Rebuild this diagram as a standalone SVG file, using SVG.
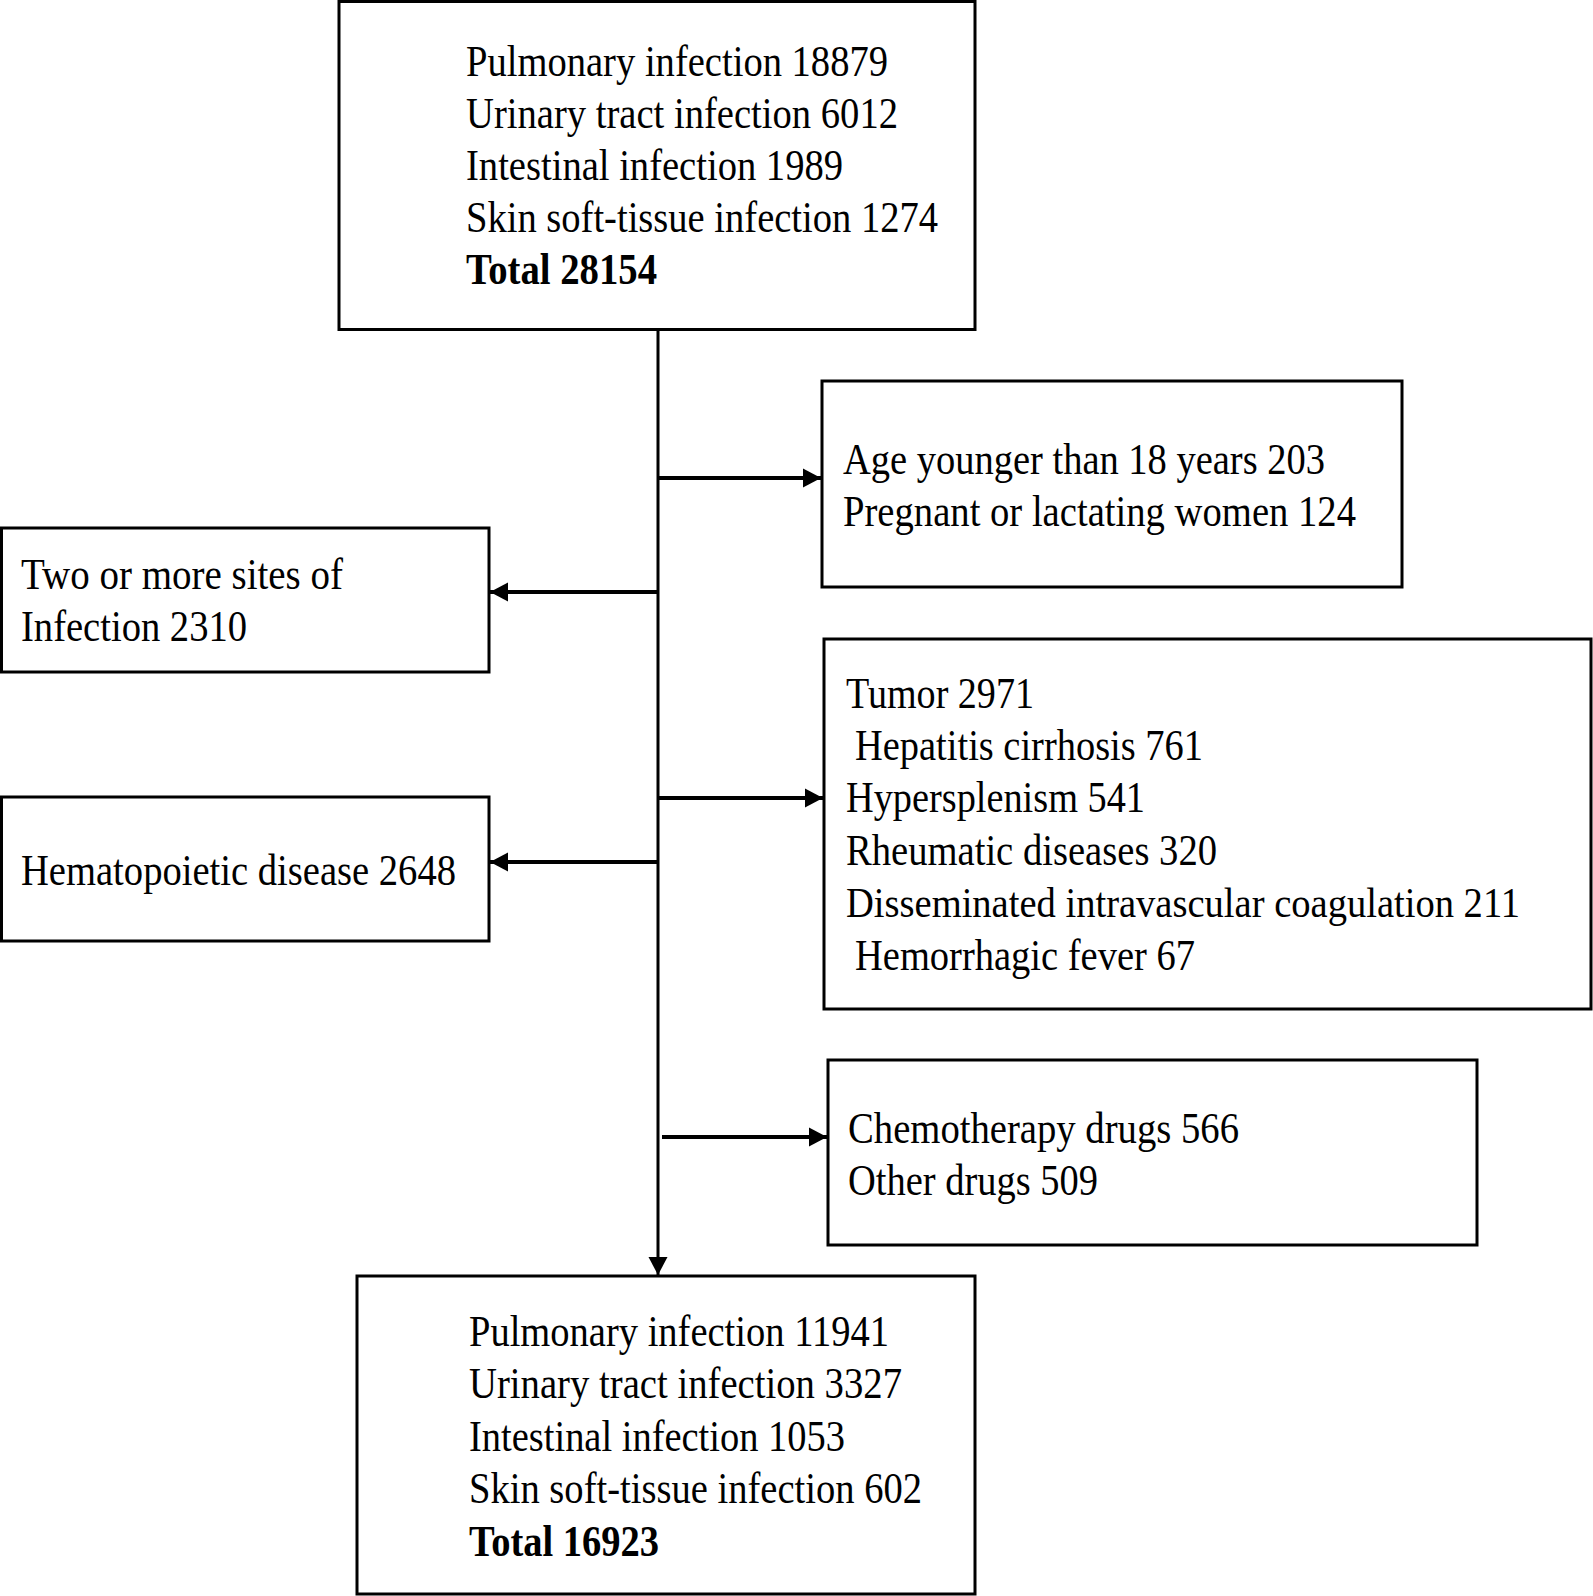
<svg xmlns="http://www.w3.org/2000/svg" width="1593" height="1596" viewBox="0 0 1593 1596">
<style>
.box{fill:#fff;stroke:#000;stroke-width:3}
.t{font-family:"Liberation Serif","Times New Roman",serif;font-size:44px;fill:#000}
.s{font-size:42px}
.b{font-weight:bold}
.h{stroke:#000;stroke-width:4;fill:none}
.v{stroke:#000;stroke-width:3;fill:none}
</style>
<defs>
<marker id="ah" markerUnits="userSpaceOnUse" markerWidth="20" markerHeight="22" viewBox="0 0 20 22" refX="18" refY="11" orient="auto">
<path d="M0,1.5 L18,11 L0,20.5 Z" fill="#000"/>
</marker>
</defs>
<rect width="1593" height="1596" fill="#fff"/>
<g id="connectors">
<line class="v" x1="658" y1="330" x2="658" y2="1275" marker-end="url(#ah)"/>
<line class="h" x1="657" y1="478" x2="821" y2="478" marker-end="url(#ah)"/>
<line class="h" x1="658" y1="592" x2="490" y2="592" marker-end="url(#ah)"/>
<line class="h" x1="657" y1="798" x2="823" y2="798" marker-end="url(#ah)"/>
<line class="h" x1="658" y1="862" x2="490" y2="862" marker-end="url(#ah)"/>
<line class="h" x1="662" y1="1137" x2="827" y2="1137" marker-end="url(#ah)"/>
</g>
<g id="start">
<rect class="box" x="339" y="1.5" width="636" height="328"/>
<text class="t" x="466" y="76" textLength="422" lengthAdjust="spacingAndGlyphs">Pulmonary infection 18879</text>
<text class="t" x="466" y="128" textLength="432" lengthAdjust="spacingAndGlyphs">Urinary tract infection 6012</text>
<text class="t" x="466" y="180" textLength="377" lengthAdjust="spacingAndGlyphs">Intestinal infection 1989</text>
<text class="t" x="466" y="232" textLength="472" lengthAdjust="spacingAndGlyphs">Skin soft-tissue infection 1274</text>
<text class="t b" x="466" y="284" textLength="191" lengthAdjust="spacingAndGlyphs">Total 28154</text>
</g>
<g id="excl-age">
<rect class="box" x="822" y="381" width="580" height="206"/>
<text class="t" x="843" y="474" textLength="482" lengthAdjust="spacingAndGlyphs">Age younger than 18 years 203</text>
<text class="t" x="843" y="526" textLength="513" lengthAdjust="spacingAndGlyphs">Pregnant or lactating women 124</text>
</g>
<g id="excl-sites">
<rect class="box" x="1.5" y="528" width="487.5" height="144"/>
<text class="t" x="21" y="589" textLength="322" lengthAdjust="spacingAndGlyphs">Two or more sites of</text>
<text class="t" x="21" y="641" textLength="226" lengthAdjust="spacingAndGlyphs">Infection 2310</text>
</g>
<g id="excl-diseases">
<rect class="box" x="824" y="639" width="767" height="370"/>
<text class="t" x="846" y="708" textLength="188" lengthAdjust="spacingAndGlyphs">Tumor 2971</text>
<text class="t" x="855" y="760" textLength="348" lengthAdjust="spacingAndGlyphs">Hepatitis cirrhosis 761</text>
<text class="t" x="846" y="812" textLength="299" lengthAdjust="spacingAndGlyphs">Hypersplenism 541</text>
<text class="t" x="846" y="865" textLength="371" lengthAdjust="spacingAndGlyphs">Rheumatic diseases 320</text>
<text class="t s" x="846" y="917" textLength="674" lengthAdjust="spacingAndGlyphs">Disseminated intravascular coagulation 211</text>
<text class="t" x="855" y="970" textLength="340" lengthAdjust="spacingAndGlyphs">Hemorrhagic fever 67</text>
</g>
<g id="excl-hemato">
<rect class="box" x="1.5" y="797" width="487.5" height="144"/>
<text class="t" x="21" y="885" textLength="435" lengthAdjust="spacingAndGlyphs">Hematopoietic disease 2648</text>
</g>
<g id="excl-drugs">
<rect class="box" x="828" y="1060" width="649" height="185"/>
<text class="t" x="848" y="1143" textLength="391" lengthAdjust="spacingAndGlyphs">Chemotherapy drugs 566</text>
<text class="t" x="848" y="1195" textLength="250" lengthAdjust="spacingAndGlyphs">Other drugs 509</text>
</g>
<g id="final">
<rect class="box" x="357" y="1276" width="618" height="318"/>
<text class="t" x="469" y="1346" textLength="420" lengthAdjust="spacingAndGlyphs">Pulmonary infection 11941</text>
<text class="t" x="469" y="1398" textLength="433" lengthAdjust="spacingAndGlyphs">Urinary tract infection 3327</text>
<text class="t" x="469" y="1451" textLength="376" lengthAdjust="spacingAndGlyphs">Intestinal infection 1053</text>
<text class="t" x="469" y="1503" textLength="453" lengthAdjust="spacingAndGlyphs">Skin soft-tissue infection 602</text>
<text class="t b" x="469" y="1556" textLength="190" lengthAdjust="spacingAndGlyphs">Total 16923</text>
</g>
</svg>
